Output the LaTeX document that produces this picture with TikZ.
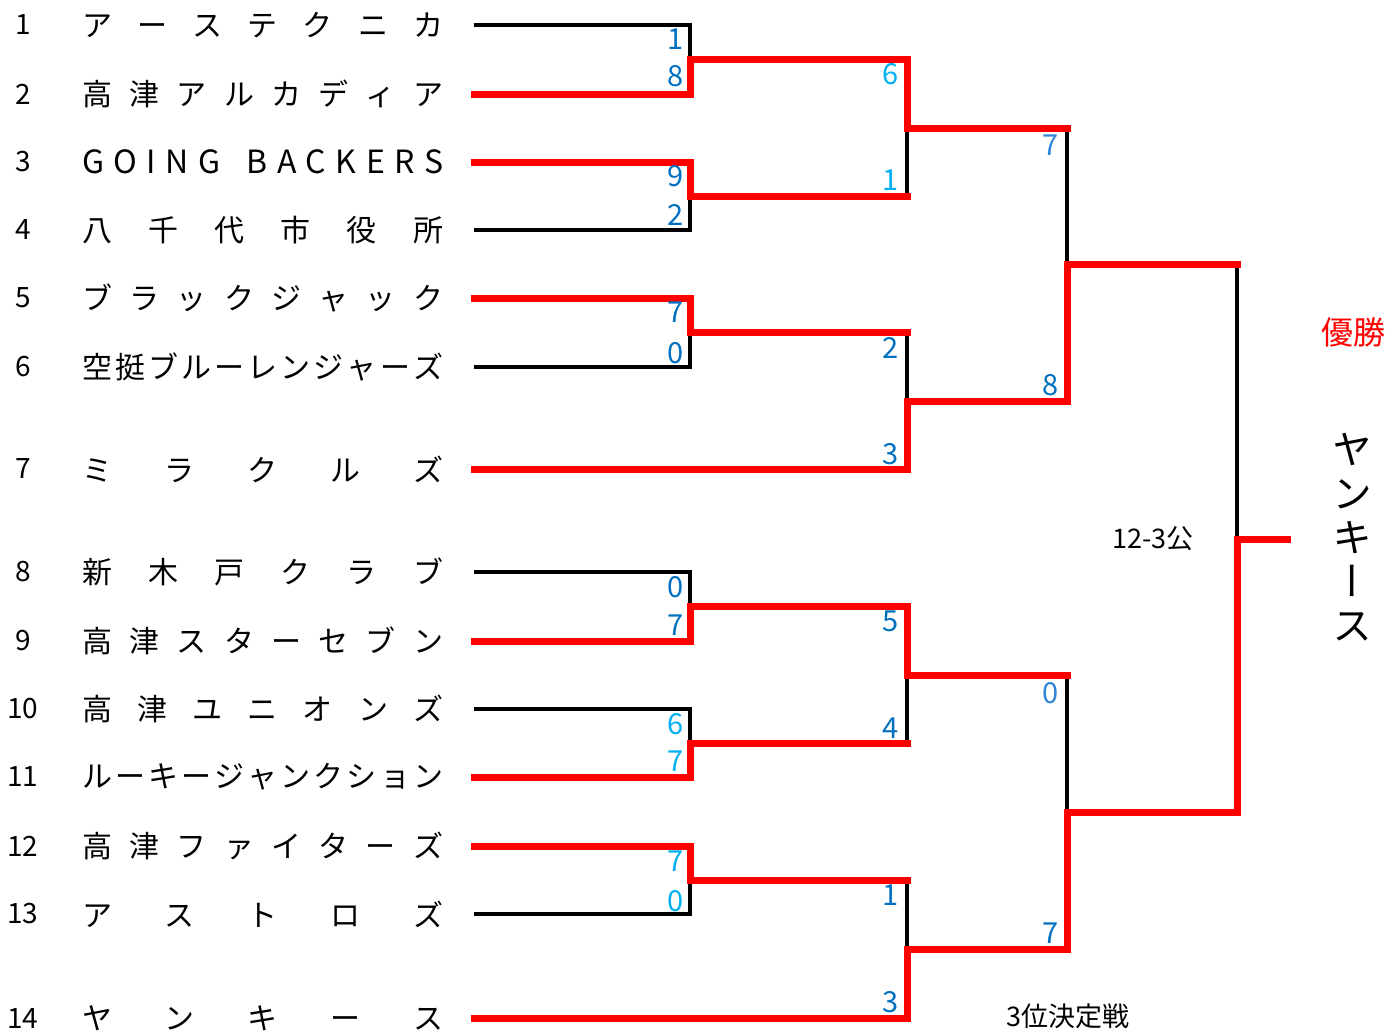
\documentclass[tikz,border=0pt]{standalone}
\usepackage{fontspec}
\setmainfont{Noto Sans CJK JP}
\newfontfamily\vertfont[RawFeature=+vert]{Noto Sans CJK JP}
\usetikzlibrary{positioning}
\definecolor{scoredark}{HTML}{0070C0}
\definecolor{scoremid}{HTML}{2F86D8}
\definecolor{scorelight}{HTML}{00B0F0}
\def\spreadloop#1{\ifx\relax#1\else\hfill#1\expandafter\spreadloop\fi}
\def\spreadfirst#1{#1\spreadloop}
\newcommand\spreadname[1]{\makebox[361pt][s]{\spreadfirst#1\relax}}
\tikzstyle{teamnum} = [inner sep=0pt, font=\fontsize{28}{28}\selectfont]
\tikzstyle{teamname} = [anchor=west, inner sep=0pt, font=\fontsize{30}{30}\selectfont]
\tikzstyle{score} = [anchor=east, inner sep=0pt, font=\fontsize{29}{29}\selectfont, text=scoredark]
\tikzstyle{loser} = [draw=black, line width=3.5pt]
\tikzstyle{winner} = [draw=red, line width=7pt, line cap=rect, line join=miter]

\begin{document}
\begin{tikzpicture}[x=1pt, y=-1pt]
    \useasboundingbox (0,0) rectangle (1399,1031);

    \node (n1)  [teamnum] at (23,25)   {1};
    \node (n2)  [teamnum] at (23,94)   {2};
    \node (n3)  [teamnum] at (23,162)  {3};
    \node (n4)  [teamnum] at (23,230)  {4};
    \node (n5)  [teamnum] at (23,298)  {5};
    \node (n6)  [teamnum] at (23,367)  {6};
    \node (n7)  [teamnum] at (23,469)  {7};
    \node (n8)  [teamnum] at (23,572)  {8};
    \node (n9)  [teamnum] at (23,641)  {9};
    \node (n10) [teamnum] at (23,709)  {10};
    \node (n11) [teamnum] at (23,777)  {11};
    \node (n12) [teamnum] at (23,846)  {12};
    \node (n13) [teamnum] at (23,914)  {13};
    \node (n14) [teamnum] at (23,1018) {14};

    \node (t1)  [teamname] at (82,25)   {\spreadname{アーステクニカ}};
    \node (t2)  [teamname] at (82,94)   {\spreadname{高津アルカディア}};
    \node (t3)  [teamname, font=\fontsize{32}{32}\selectfont] at (82,162) {\spreadname{GOING~BACKERS}};
    \node (t4)  [teamname] at (82,230)  {\spreadname{八千代市役所}};
    \node (t5)  [teamname] at (82,298)  {\spreadname{ブラックジャック}};
    \node (t6)  [teamname] at (82,367)  {\spreadname{空挺ブルーレンジャーズ}};
    \node (t7)  [teamname] at (82,469)  {\spreadname{ミラクルズ}};
    \node (t8)  [teamname] at (82,572)  {\spreadname{新木戸クラブ}};
    \node (t9)  [teamname] at (82,641)  {\spreadname{高津スターセブン}};
    \node (t10) [teamname] at (82,709)  {\spreadname{高津ユニオンズ}};
    \node (t11) [teamname] at (82,777)  {\spreadname{ルーキージャンクション}};
    \node (t12) [teamname] at (82,846)  {\spreadname{高津ファイターズ}};
    \node (t13) [teamname] at (82,914)  {\spreadname{アストロズ}};
    \node (t14) [teamname] at (82,1018) {\spreadname{ヤンキース}};

    \foreach \i in {1,...,14}
        \coordinate [right=31pt of t\i] (s\i);

    \coordinate (m1) at (690,59);
    \coordinate (m2) at (690,196);
    \coordinate (m3) at (690,332);
    \coordinate (m4) at (690,606);
    \coordinate (m5) at (690,743);
    \coordinate (m6) at (690,880);
    \coordinate (q1) at (907,128);
    \coordinate (q2) at (907,401);
    \coordinate (q3) at (907,675);
    \coordinate (q4) at (907,949);
    \coordinate (f1) at (1067,264);
    \coordinate (f2) at (1067,812);
    \coordinate (ch) at (1237,539);
    \coordinate (win) at (1287,539);

    \draw [loser] (s1) -| (m1) |- (s2);
    \draw [loser] (s3) -| (m2) |- (s4);
    \draw [loser] (s5) -| (m3) |- (s6);
    \draw [loser] (s8) -| (m4) |- (s9);
    \draw [loser] (s10) -| (m5) |- (s11);
    \draw [loser] (s12) -| (m6) |- (s13);
    \draw [loser] (m1) -| (q1) |- (m2);
    \draw [loser] (m3) -| (q2) |- (s7);
    \draw [loser] (m4) -| (q3) |- (m5);
    \draw [loser] (m6) -| (q4) |- (s14);
    \draw [loser] (q1) -| (f1) |- (q2);
    \draw [loser] (q3) -| (f2) |- (q4);
    \draw [loser] (f1) -| (ch) |- (f2);

    \draw [winner] (s2) -| (m1) -| (q1) -- (q1 -| f1);
    \draw [winner] (s3) -| (m2) -- (m2 -| q1);
    \draw [winner] (s5) -| (m3) -- (m3 -| q2);
    \draw [winner] (s7) -| (q2) -| (f1) -- (f1 -| ch);
    \draw [winner] (s9) -| (m4) -| (q3) -- (q3 -| f2);
    \draw [winner] (s11) -| (m5) -- (m5 -| q3);
    \draw [winner] (s12) -| (m6) -- (m6 -| q4);
    \draw [winner] (s14) -| (q4) -| (f2) -| (ch) -- (win);

    \node [score] at (684,39)  {1};
    \node [score] at (684,76)  {8};
    \node [score] at (684,176) {9};
    \node [score] at (684,215) {2};
    \node [score] at (684,312) {7};
    \node [score] at (684,353) {0};
    \node [score] at (684,587) {0};
    \node [score] at (684,625) {7};
    \node [score, text=scorelight] at (684,724) {6};
    \node [score, text=scorelight] at (684,761) {7};
    \node [score, text=scorelight] at (684,861) {7};
    \node [score, text=scorelight] at (684,901) {0};
    \node [score, text=scorelight] at (899,74)  {6};
    \node [score, text=scorelight] at (899,180) {1};
    \node [score] at (899,348)  {2};
    \node [score] at (899,454)  {3};
    \node [score] at (899,621)  {5};
    \node [score] at (899,728)  {4};
    \node [score] at (899,895)  {1};
    \node [score] at (899,1002) {3};
    \node [score, text=scoremid] at (1059,145) {7};
    \node [score] at (1059,385) {8};
    \node [score, text=scoremid] at (1059,693) {0};
    \node [score] at (1059,933) {7};

    \node (result) [inner sep=0pt, font=\fontsize{27}{27}\selectfont] at (1153,539) {12-3公};
    \node (title) [inner sep=0pt, text=red, font=\fontsize{32}{32}\selectfont] at (1353,332) {優勝};
    \node (champ) [inner sep=0pt, align=center, font=\vertfont\fontsize{40}{44}\selectfont] at (1352,537) {ヤ\\ン\\キ\\ー\\ス};
    \node (third) [inner sep=0pt, font=\fontsize{27}{27}\selectfont] at (1068,1016) {3位決定戦};
\end{tikzpicture}
\end{document}
